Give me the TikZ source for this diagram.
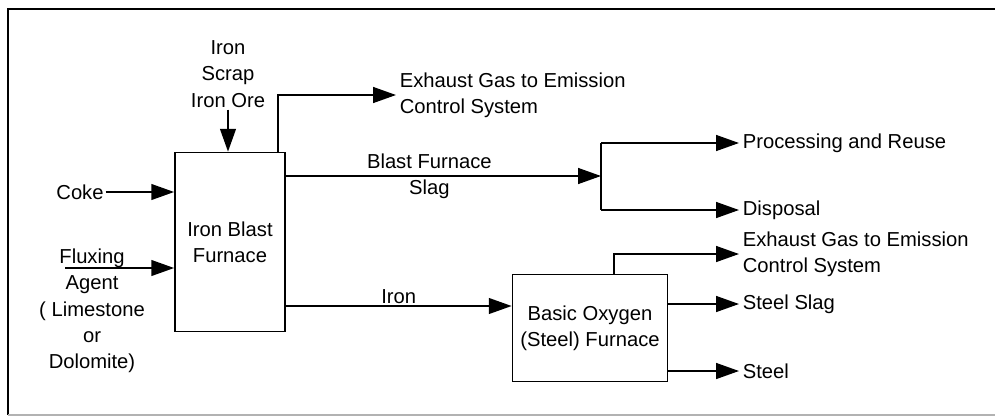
\documentclass[tikz,border=0pt]{standalone}
\usepackage{fontspec}
\setmainfont{Liberation Sans}
\usetikzlibrary{arrows.meta, positioning}

\begin{document}
\begin{tikzpicture}[
    x=0.02cm, y=-0.02cm,
    font=\fontsize{11.5}{15}\selectfont,
    box/.style={rectangle, draw, line width=1pt, align=center, inner sep=2pt},
    lbl/.style={align=left, anchor=west, inner sep=2pt},
    arrow/.style={-{Triangle[length=13pt,width=9pt]}, line width=1pt}
]
\useasboundingbox (0,0) rectangle (995,417);
\draw[line width=1.2pt] (995,9) -- (8,9) -- (8,415);
\draw[line width=0.8pt, black!30] (8,415) -- (995,415);

\node[box, minimum width=2.2cm, minimum height=3.58cm] (bf) at (230,242) {Iron Blast\\Furnace};
\node[box, minimum width=3.1cm, minimum height=2.14cm] (bof) at (590,328) {Basic Oxygen\\(Steel) Furnace};

\node[align=center, inner sep=1pt] (ore) at (228,74) {Iron\\Scrap\\Iron Ore};
\node[inner sep=1pt] (coke) at (80,192) {Coke};
\node[align=center, inner sep=1pt] (flux) at (92,311) {Fluxing\\Agent\\( Limestone\\or\\Dolomite)};
\coordinate (fluxin) at (65,268);

\node[lbl] (exh1) at (396,95) {Exhaust Gas to Emission\\Control System};
\node[lbl] (proc) at (739,143) {Processing and Reuse};
\node[lbl] (disp) at (739,210) {Disposal};
\node[lbl] (exh2) at (739,254) {Exhaust Gas to Emission\\Control System};
\node[lbl] (sslag) at (739,304) {Steel Slag};
\node[lbl] (steel) at (739,371) {Steel};

\coordinate (split) at (601,176);
\coordinate (ironrow) at (0,306);

\draw[arrow] (ore) -- (ore |- bf.north);
\draw[arrow] (coke) -- (coke -| bf.west);
\draw[arrow] (fluxin) -- (fluxin -| bf.west);
\draw[arrow] (bf.north -| 278,0) |- (exh1.west);
\draw[arrow] (bf.east |- split) -- node[align=center, inner sep=0pt, xshift=-8pt] {Blast Furnace\\Slag} (split);
\draw[line width=1pt] (split |- proc.west) -- (split |- disp.west);
\draw[arrow] (split |- proc.west) -- (proc.west);
\draw[arrow] (split |- disp.west) -- (disp.west);
\draw[arrow] (bf.east |- ironrow) -- node[above, inner sep=1pt] {Iron} (bof.west |- ironrow);
\draw[arrow] (bof.north -| 614,0) |- (exh2.west);
\draw[arrow] (bof.east |- sslag.west) -- (sslag.west);
\draw[arrow] (bof.east |- steel.west) -- (steel.west);
\end{tikzpicture}
\end{document}
